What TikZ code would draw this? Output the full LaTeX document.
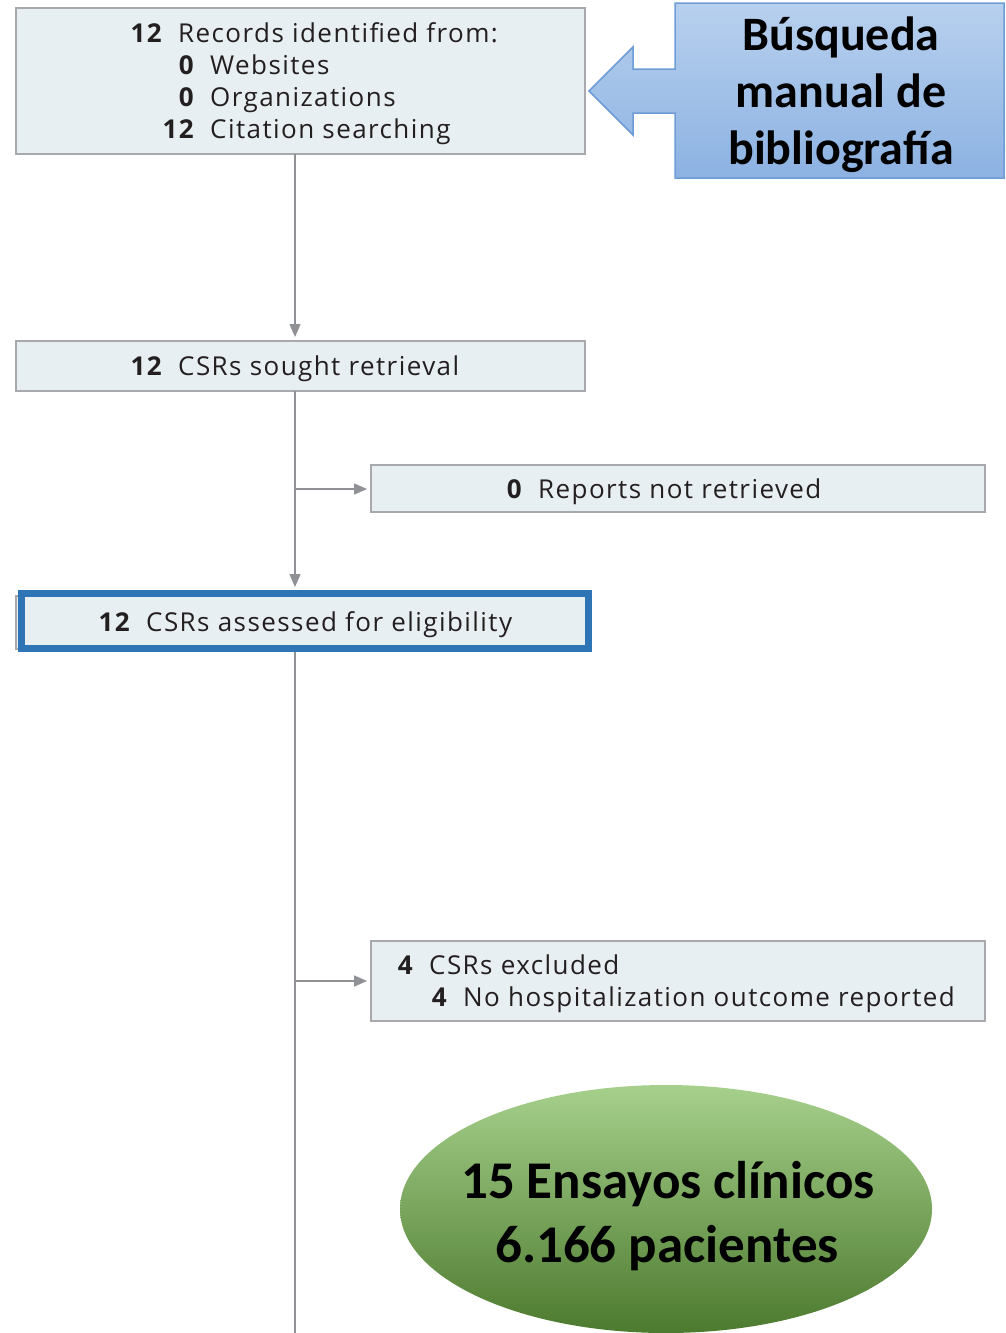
\documentclass[tikz,border=0pt]{standalone}
\usepackage{fontspec}
\setmainfont[LetterSpace=5.5]{Open Sans}
\newfontfamily\calib{Carlito}
\usetikzlibrary{arrows.meta,shapes.geometric}
\definecolor{boxfill}{HTML}{E8EFF3}
\definecolor{boxline}{HTML}{A7A9AC}
\definecolor{flow}{HTML}{8F9195}
\definecolor{txt}{HTML}{231F20}
\definecolor{hilite}{HTML}{2E75B6}
\definecolor{calltop}{HTML}{B8D0EE}
\definecolor{callbot}{HTML}{8CB2E2}
\definecolor{callline}{HTML}{6C9CD6}
\definecolor{gtop}{HTML}{A6D08C}
\definecolor{gmid}{HTML}{77B145}
\definecolor{gbot}{HTML}{4C7A2E}
\begin{document}
\begin{tikzpicture}[x=1pt,y=-1pt,
 flowbox/.style={draw=boxline,fill=boxfill,line width=1.2pt,inner sep=0pt,outer sep=0pt,anchor=north west},
 num/.style={anchor=base east,inner sep=0pt,font=\fontsize{26}{30}\selectfont\bfseries,text=txt},
 lbl/.style={anchor=base west,inner sep=0pt,font=\fontsize{26}{30}\selectfont,text=txt},
 conn/.style={draw=flow,line width=1.5pt},
 arr/.style={conn,-{Triangle[length=13pt,width=11pt]},shorten >=4pt},
 calltxt/.style={anchor=base,inner sep=0pt,font=\calib\bfseries\fontsize{48}{57}\selectfont,text=black},
 restxt/.style={anchor=base,inner sep=0pt,font=\calib\bfseries\fontsize{53}{63}\selectfont,text=black}
]
\useasboundingbox (0,0) rectangle (1005,1333);
\coordinate (sp) at (295,0);
\coordinate (j1) at (295,489);
\coordinate (j2) at (295,981);
\coordinate (bot) at (295,1333);

% boxes
\node[flowbox,minimum width=569pt,minimum height=146pt] (b1) at (16,8) {};
\node[flowbox,minimum width=569pt,minimum height=50pt] (b2) at (16,341) {};
\node[flowbox,minimum width=614pt,minimum height=47pt] (b3) at (371,465) {};
\node[flowbox,minimum width=572pt,minimum height=53pt] (b4) at (16,596) {};
\node[flowbox,minimum width=614pt,minimum height=80pt] (b5) at (371,941) {};

% connectors
\draw[arr] (b1.south -| sp) -- (b2.north -| sp);
\draw[arr,shorten >=9pt] (b2.south -| sp) -- (b4.north -| sp);
\draw[arr] (j1) -- (b3.west |- j1);
\draw[conn] (b4.south -| sp) -- (bot);
\draw[arr] (j2) -- (b5.west |- j2);

% highlight frame
\node[draw=hilite,line width=7pt,inner sep=0pt,outer sep=0pt,minimum width=567pt,minimum height=55pt,anchor=north west] (hl) at (21.5,593.5) {};

% texts
\node[num] (n11) at (162,42) {12};
\node[lbl] (t11) at (178,42) {Records identified from:};
\node[num] (n12) at (194,74) {0};
\node[lbl] (t12) at (210,74) {Websites};
\node[num] (n13) at (194,106) {0};
\node[lbl] (t13) at (210,106) {Organizations};
\node[num] (n14) at (194,138) {12};
\node[lbl] (t14) at (210,138) {Citation searching};

\node[num] (n2) at (162,375) {12};
\node[lbl] (t2) at (178,375) {CSRs sought retrieval};

\node[num] (n3) at (522,498) {0};
\node[lbl] (t3) at (538,498) {Reports not retrieved};

\node[num] (n4) at (130,631) {12};
\node[lbl] (t4) at (146,631) {CSRs assessed for eligibility};

\node[num] (n51) at (413,974) {4};
\node[lbl] (t51) at (429,974) {CSRs excluded};
\node[num] (n52) at (447,1006) {4};
\node[lbl] (t52) at (463,1006) {No hospitalization outcome reported};

% callout arrow
\draw[top color=calltop,bottom color=callbot,draw=callline,line width=1.5pt,line join=miter]
  (589,91) -- (633,47) -- (633,69) -- (675,69) -- (675,3) -- (1004,3) -- (1004,178)
  -- (675,178) -- (675,113) -- (633,113) -- (633,135) -- cycle;
\node[calltxt] (c1) at (841,50) {Búsqueda};
\node[calltxt] (c2) at (841,107) {manual de};
\node[calltxt] (c3) at (841,164) {bibliografía};

% result ellipse
\node[ellipse,inner sep=0pt,minimum width=532pt,minimum height=248pt,
  top color=gtop,middle color=gmid,bottom color=gbot] (res) at (666,1209) {};
\node[restxt] (r1) at (668,1198) {15 Ensayos clínicos};
\node[restxt] (r2) at (667,1262) {6.166 pacientes};
\end{tikzpicture}
\end{document}
